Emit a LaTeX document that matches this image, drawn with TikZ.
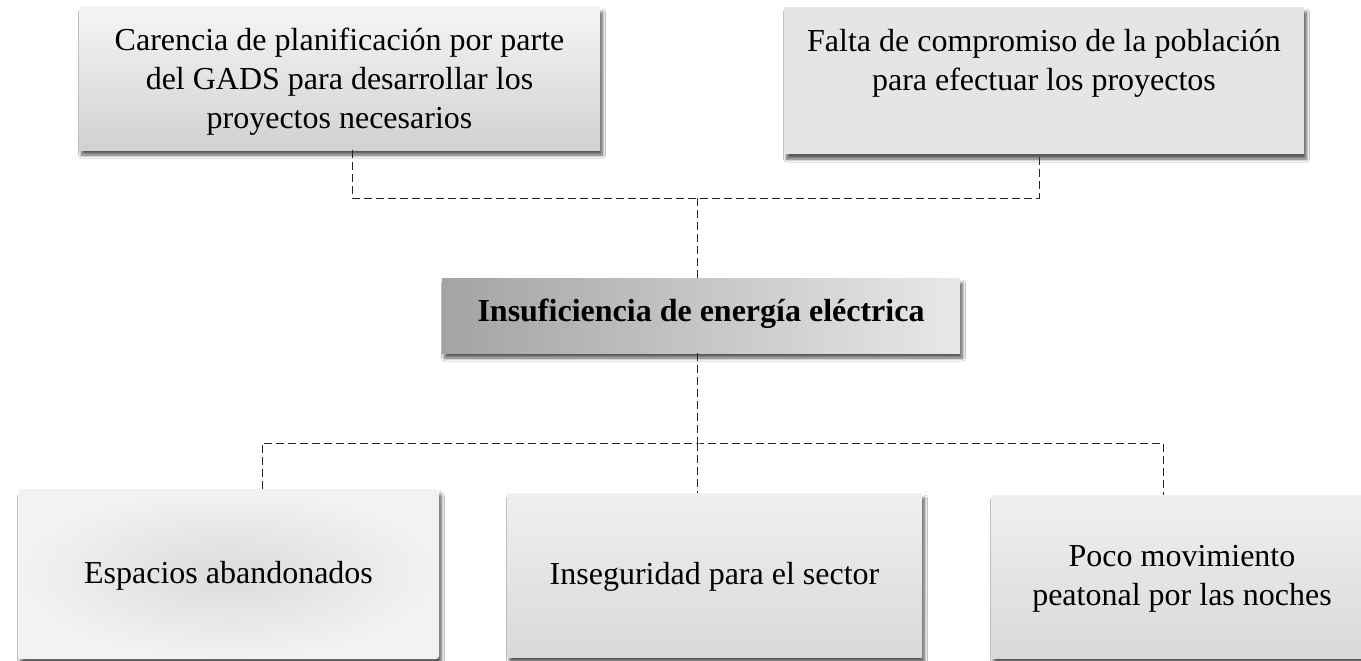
\documentclass[tikz,border=0pt]{standalone}
\usepackage{fontspec}
\setmainfont{Liberation Serif}
\usetikzlibrary{shadows,shadows.blur}
\begin{document}
\begin{tikzpicture}[x=1pt,y=-1pt,
  box/.style={rectangle, inner sep=0pt,
    blur shadow={shadow xshift=2.5pt, shadow yshift=-5pt, shadow blur steps=8, shadow blur radius=3pt, shadow opacity=65}},
  txt/.style={align=center, inner sep=0pt, font=\fontsize{32}{39}\selectfont},
  conn/.style={draw=black!85, line width=1pt, dash pattern=on 8pt off 4pt}]
\useasboundingbox (0,0) rectangle (1361,661);
\fill[white] (0,0) rectangle (1361,661);
% top boxes
\node[box, minimum width=521pt, minimum height=143pt, top color=white!96!black, bottom color=black!18,
  label={[txt, yshift=-3pt]center:Carencia de planificación por parte\\del GADS para desarrollar los\\proyectos necesarios}]
  (b1) at (339.5,78.5) {};
\node[box, minimum width=520pt, minimum height=147pt, fill=black!10,
  label={[txt, yshift=17.5pt]center:Falta de compromiso de la población\\para efectuar los proyectos}]
  (b2) at (1044,80.5) {};
% center box
\node[box, minimum width=518pt, minimum height=75pt, left color=black!36, right color=black!9,
  label={[txt, font=\fontsize{32}{39}\selectfont\bfseries, yshift=2pt]center:Insuficiencia de energía eléctrica}]
  (c) at (701,315.5) {};
% bottom boxes
\node[box, minimum width=421pt, minimum height=170pt, rounded corners=3pt,
  inner color=black!14, outer color=black!5,
  label={[txt, yshift=-2pt]center:Espacios abandonados}]
  (e1) at (228.5,574) {};
\node[box, minimum width=415pt, minimum height=164pt, top color=black!6, bottom color=black!15,
  label={[txt, yshift=-1.5pt]center:Inseguridad para el sector}]
  (e2) at (714.5,575) {};
\node[box, minimum width=382pt, minimum height=163pt, top color=black!6, bottom color=black!15,
  label={[txt, yshift=-2.5pt]center:Poco movimiento\\peatonal por las noches}]
  (e3) at (1182,576.5) {};
% connectors
\coordinate (j1) at (697,198);
\coordinate (j2) at (697,443);
\draw[conn] (b1.south -| 352,0) |- (j1) -| (b2.south -| 1039,0);
\draw[conn] (j1) -- (j1 |- c.north);
\draw[conn] (j2 |- c.south) -- (j2);
\draw[conn] (e1.north -| 262,0) |- (j2) -| (e3.north -| 1163,0);
\draw[conn] (j2) -- (j2 |- e2.north);
\end{tikzpicture}
\end{document}
